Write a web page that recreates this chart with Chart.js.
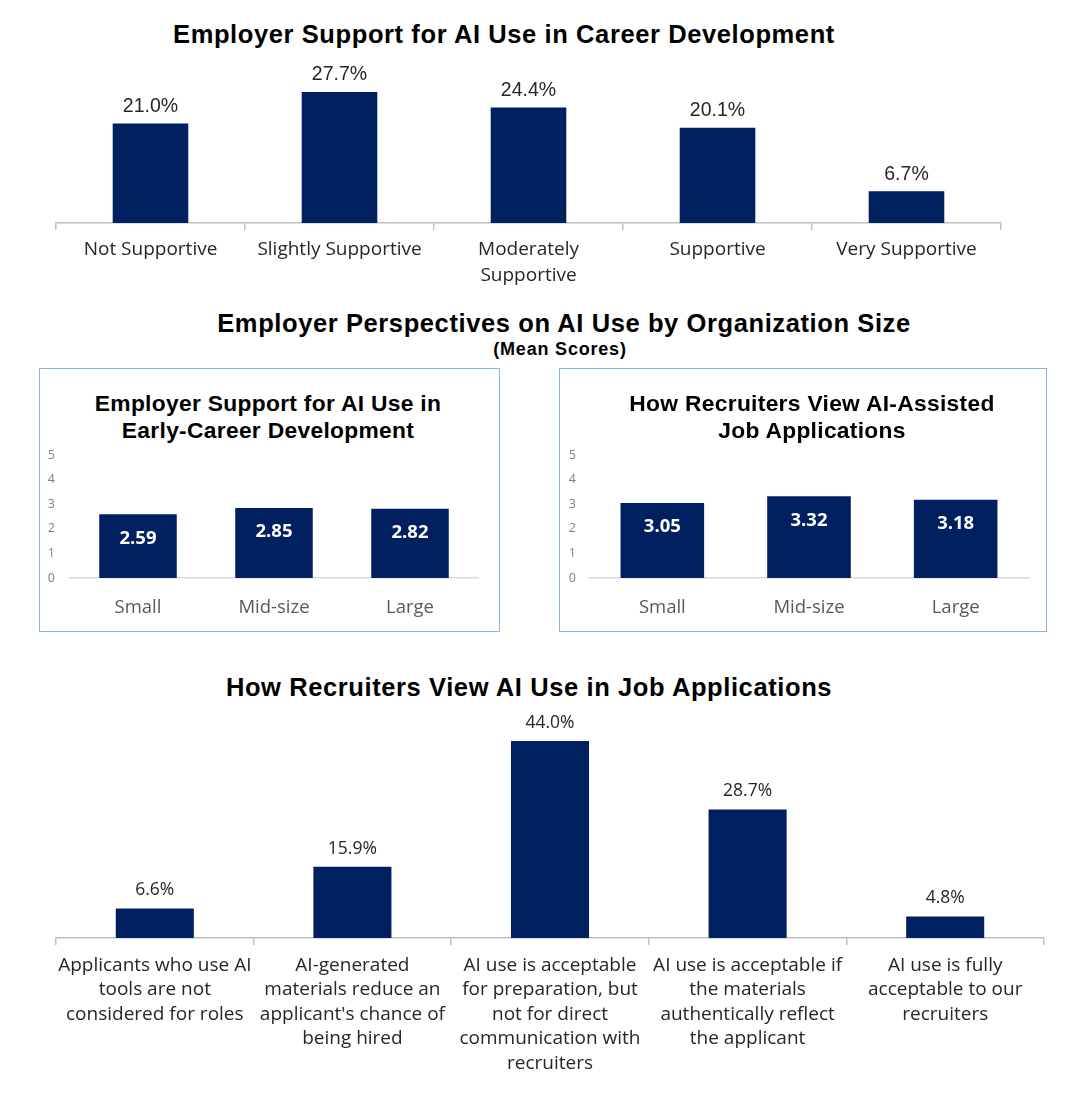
<!DOCTYPE html>
<html>
<head>
<meta charset="utf-8">
<script src="https://cdn.jsdelivr.net/npm/chart.js@4.4.1/dist/chart.umd.min.js"></script>
<style>
  html, body { margin: 0; padding: 0; background: #fff; }
  body { width: 1080px; height: 1096px; position: relative; overflow: hidden; font-family: "Liberation Sans", Arial, sans-serif; }
  .title { position: absolute; left: 0; text-align: center; font-weight: bold; color: #000; white-space: nowrap; }
  .main-title { font-size: 25.5px; letter-spacing: 0.6px; line-height: 28px; }
  .sub-title { font-size: 18px; letter-spacing: 0.8px; line-height: 20px; }
  .inner-title { font-size: 22.8px; letter-spacing: 0.3px; line-height: 27px; }
  .box { position: absolute; border: 1.5px solid #8db3e2; box-sizing: border-box; }
  .chart { position: absolute; }
</style>
</head>
<body>

<div class="title main-title" style="top:20px; width:1008px;">Employer Support for AI Use in Career Development</div>
<div class="chart" style="left:0; top:0; width:1080px; height:300px;"><canvas id="careerChart"></canvas></div>

<div class="title main-title" style="top:309px; width:1128px;">Employer Perspectives on AI Use by Organization Size</div>
<div class="title sub-title" style="top:339px; width:1120px;">(Mean Scores)</div>

<div class="box" style="left:39px; top:368px; width:461px; height:264px;"></div>
<div class="title inner-title" style="top:390px; width:536px;">Employer Support for AI Use in<br>Early-Career Development</div>
<div class="chart" style="left:40px; top:370px; width:458px; height:260px;"><canvas id="earlyChart"></canvas></div>

<div class="box" style="left:559px; top:368px; width:488px; height:264px;"></div>
<div class="title inner-title" style="top:390px; width:1624px;">How Recruiters View AI-Assisted<br>Job Applications</div>
<div class="chart" style="left:560px; top:370px; width:485px; height:260px;"><canvas id="assistedChart"></canvas></div>

<div class="title main-title" style="top:673px; width:1058px;">How Recruiters View AI Use in Job Applications</div>
<div class="chart" style="left:0; top:700px; width:1080px; height:396px;"><canvas id="recruiterChart"></canvas></div>

<script>
// ---- data ----
const careerLabels = ['Not Supportive', 'Slightly Supportive', ['Moderately', 'Supportive'], 'Supportive', 'Very Supportive'];
const careerValues = [21.0, 27.7, 24.4, 20.1, 6.7];

const sizeLabels = ['Small', 'Mid-size', 'Large'];
const earlyCareerMeans = [2.59, 2.85, 2.82];
const assistedMeans = [3.05, 3.32, 3.18];
const meanTickMax = 5;

const recruiterLabels = [
  ['Applicants who use AI', 'tools are not', 'considered for roles'],
  ['AI-generated', 'materials reduce an', "applicant's chance of", 'being hired'],
  ['AI use is acceptable', 'for preparation, but', 'not for direct', 'communication with', 'recruiters'],
  ['AI use is acceptable if', 'the materials', 'authentically reflect', 'the applicant'],
  ['AI use is fully', 'acceptable to our', 'recruiters']
];
const recruiterValues = [6.6, 15.9, 44.0, 28.7, 4.8];

const navy = '#002060';

// draws value labels above bars or inside near the top
const valueLabels = {
  id: 'valueLabels',
  afterDatasetsDraw(chart, args, opts) {
    const ctx = chart.ctx;
    const meta = chart.getDatasetMeta(0);
    const data = chart.data.datasets[0].data;
    ctx.save();
    ctx.font = opts.labelFont;
    ctx.fillStyle = opts.color;
    ctx.textAlign = 'center';
    ctx.textBaseline = 'middle';
    meta.data.forEach((bar, i) => {
      const text = data[i].toFixed(opts.decimals) + (opts.suffix || '');
      const y = opts.inside ? bar.y + opts.offset : bar.y - opts.offset;
      ctx.fillText(text, bar.x, y);
    });
    ctx.restore();
  }
};

function percentChart(id, labels, values, cfg) {
  return new Chart(document.getElementById(id), {
    type: 'bar',
    data: {
      labels: labels,
      datasets: [{ data: values, backgroundColor: navy, categoryPercentage: 1, barPercentage: cfg.barPct }]
    },
    plugins: [valueLabels],
    options: {
      responsive: true,
      maintainAspectRatio: false,
      animation: false,
      layout: { padding: cfg.padding },
      plugins: {
        legend: { display: false },
        tooltip: { enabled: false },
        valueLabels: cfg.valueLabels
      },
      scales: {
        x: {
          border: { color: '#bfbfbf', width: 1.5 },
          grid: { display: true, drawOnChartArea: false, drawTicks: true, tickLength: 7, color: '#bfbfbf', lineWidth: 1.5, offset: true },
          ticks: {
            color: '#262626',
            font: { family: '"Open Sans"', size: 19, lineHeight: cfg.lineHeight },
            padding: cfg.tickPad,
            maxRotation: 0,
            autoSkip: false
          },
          afterFit(scale) { scale.height = cfg.axisHeight; }
        },
        y: { display: false, min: 0, max: cfg.yMax }
      }
    }
  });
}

function meanChart(id, values, cfg) {
  return new Chart(document.getElementById(id), {
    type: 'bar',
    data: {
      labels: sizeLabels,
      datasets: [{ data: values, backgroundColor: navy, categoryPercentage: 1, barPercentage: 0.57 }]
    },
    plugins: [valueLabels],
    options: {
      responsive: true,
      maintainAspectRatio: false,
      animation: false,
      layout: { padding: cfg.padding },
      plugins: {
        legend: { display: false },
        tooltip: { enabled: false },
        valueLabels: { inside: true, offset: 24, decimals: 2, labelFont: 'bold 18.5px "Open Sans"', color: '#ffffff' }
      },
      scales: {
        x: {
          border: { color: '#d9d9d9', width: 1.5 },
          grid: { display: false, drawTicks: false },
          ticks: { color: '#595959', font: { family: '"Open Sans"', size: 18.5 }, padding: 19 },
          afterFit(scale) { scale.height = 52; }
        },
        y: {
          min: 0,
          max: meanTickMax,
          border: { display: false },
          grid: { display: false, drawTicks: false },
          ticks: { stepSize: 1, color: '#808080', font: { family: '"Open Sans"', size: 12.5 }, padding: cfg.yPad },
          afterFit(scale) { scale.width = cfg.yWidth; }
        }
      }
    }
  });
}

percentChart('careerChart', careerLabels, careerValues, {
  barPct: 0.40,
  yMax: 30,
  padding: { left: 56, right: 79, top: 81, bottom: 0 },
  axisHeight: 77,
  tickPad: 7,
  lineHeight: 1.34,
  valueLabels: { inside: false, offset: 17, decimals: 1, suffix: '%', labelFont: '19.5px "Liberation Sans"', color: '#262626' }
});

meanChart('earlyChart', earlyCareerMeans, {
  padding: { left: 0, right: 20, top: 85, bottom: 0 },
  yWidth: 30,
  yPad: 15
});

meanChart('assistedChart', assistedMeans, {
  padding: { left: 0, right: 16, top: 85, bottom: 0 },
  yWidth: 29,
  yPad: 13
});

percentChart('recruiterChart', recruiterLabels, recruiterValues, {
  barPct: 0.395,
  yMax: 50,
  padding: { left: 56, right: 36, top: 14, bottom: 0 },
  axisHeight: 158,
  tickPad: 8,
  lineHeight: 1.29,
  valueLabels: { inside: false, offset: 18, decimals: 1, suffix: '%', labelFont: '17.5px "Open Sans"', color: '#262626' }
});
</script>
</body>
</html>
